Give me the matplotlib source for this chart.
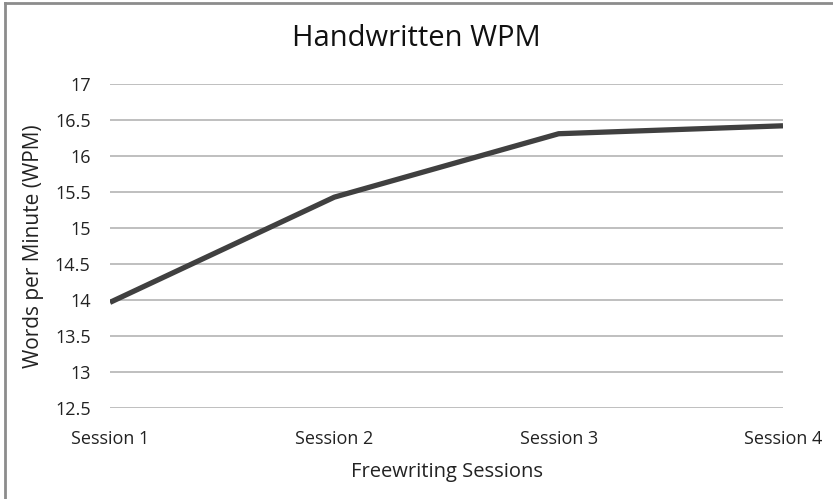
import matplotlib
matplotlib.use("Agg")
import matplotlib.pyplot as plt
from matplotlib.lines import Line2D

sessions = ["Session 1", "Session 2", "Session 3", "Session 4"]
wpm = [13.97, 15.43, 16.31, 16.42]
y_ticks = [12.5, 13, 13.5, 14, 14.5, 15, 15.5, 16, 16.5, 17]
y_tick_labels = ["12.5", "13", "13.5", "14", "14.5", "15", "15.5", "16", "16.5", "17"]

plt.rcParams["font.family"] = ["Open Sans", "DejaVu Sans"]

fig = plt.figure(figsize=(8.33, 4.99), dpi=100)
ax = fig.add_axes([110 / 833, 1 - 408.3 / 499, (783 - 110) / 833, (408.3 - 84) / 499])

x = range(len(sessions))
ax.plot(x, wpm, color="#404040", linewidth=3.8, solid_capstyle="butt", zorder=3)

ax.set_xlim(0, len(sessions) - 1)
ax.set_ylim(12.5, 17)
ax.set_yticks(y_ticks)
ax.set_yticklabels(y_tick_labels)
ax.set_xticks(list(x))
ax.set_xticklabels(sessions)
ax.yaxis.grid(True, color="#b4b4b4", linewidth=1.2)
ax.set_axisbelow(True)
for s in ax.spines.values():
    s.set_visible(False)
ax.tick_params(axis="both", length=0, labelsize=13, colors="#222222")
ax.tick_params(axis="y", pad=14)
ax.tick_params(axis="x", pad=15.5)

ax.set_xlabel("Freewriting Sessions", fontsize=14.5, color="#222222", labelpad=10)
ax.set_ylabel("Words per Minute (WPM)", fontsize=15, color="#222222", labelpad=8)
fig.text(0.5, 1 - 39 / 499, "Handwritten WPM", ha="center", va="center",
         fontsize=21, color="#111111")

# partial border at top and left, like the cropped original
fig.add_artist(Line2D([5 / 833, 5 / 833], [0, 1 - 3 / 499], transform=fig.transFigure,
                      color="#8c8c8c", linewidth=2))
fig.add_artist(Line2D([5 / 833, 1], [1 - 3 / 499, 1 - 3 / 499], transform=fig.transFigure,
                      color="#8c8c8c", linewidth=2))

fig.savefig("out.png", dpi=100, facecolor="white")
